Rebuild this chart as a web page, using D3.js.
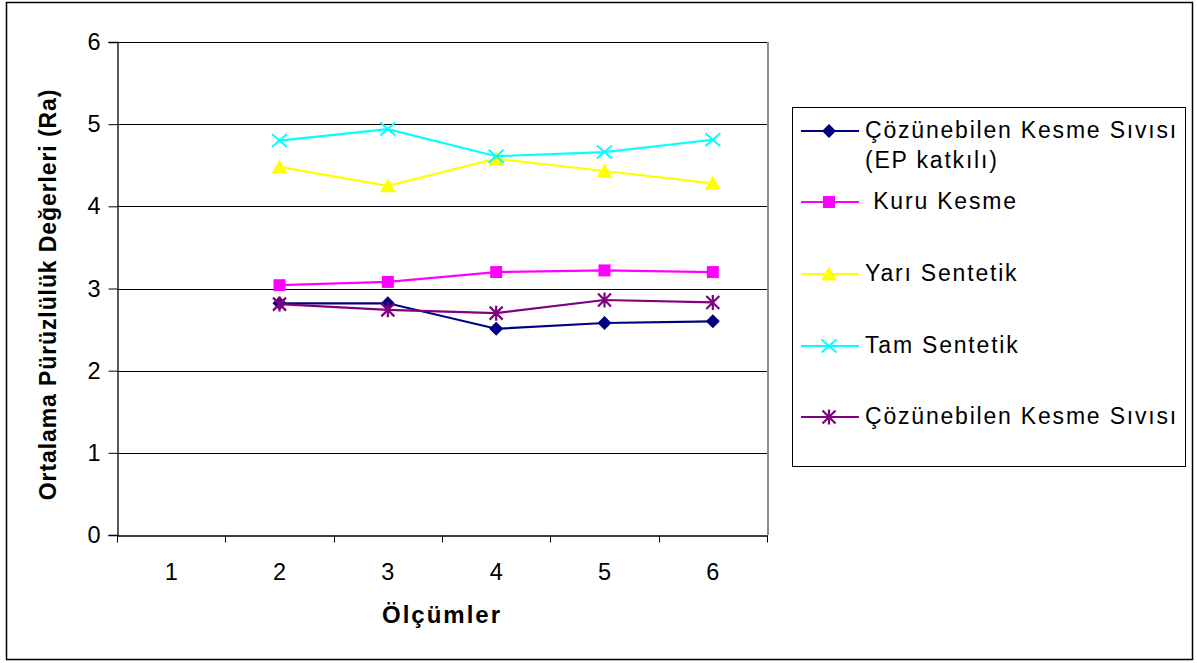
<!DOCTYPE html>
<html>
<head>
<meta charset="utf-8">
<script src="https://cdn.jsdelivr.net/npm/d3@7"></script>
<style>
  html, body { margin: 0; padding: 0; background: #fff; }
  svg { display: block; font-family: "Liberation Sans", Arial, sans-serif; }
</style>
</head>
<body>
<svg id="chart" width="1197" height="663"></svg>
<script>
// Measurement indices on the x axis
const categories = ["1", "2", "3", "4", "5", "6"];
const yTicks = [0, 1, 2, 3, 4, 5, 6];

// Average roughness (Ra) per measurement; measurement 1 has no value
const cozunebilenEP = [null, 2.82, 2.82, 2.51, 2.58, 2.60];
const kuruKesme     = [null, 3.04, 3.08, 3.20, 3.22, 3.20];
const yariSentetik  = [null, 4.48, 4.25, 4.58, 4.43, 4.28];
const tamSentetik   = [null, 4.80, 4.94, 4.61, 4.66, 4.81];
const cozunebilen   = [null, 2.81, 2.74, 2.70, 2.86, 2.83];

const seriesNames = [
  ["Çözünebilen Kesme Sıvısı", "(EP katkılı)"],
  [" Kuru Kesme"],
  ["Yarı Sentetik"],
  ["Tam Sentetik"],
  ["Çözünebilen Kesme Sıvısı"]
];

const series = [
  { name: seriesNames[0], values: cozunebilenEP, color: "#000080", marker: "diamond" },
  { name: seriesNames[1], values: kuruKesme,     color: "#ff00ff", marker: "square" },
  { name: seriesNames[2], values: yariSentetik,  color: "#ffff00", marker: "triangle" },
  { name: seriesNames[3], values: tamSentetik,   color: "#00ffff", marker: "x" },
  { name: seriesNames[4], values: cozunebilen,   color: "#800080", marker: "star" }
];

const svg = d3.select("#chart");

// Outer chart frame
svg.append("rect")
  .attr("x", 6.5).attr("y", 2.5).attr("width", 1186).attr("height", 657)
  .attr("fill", "#fff").attr("stroke", "#000").attr("stroke-width", 1.5);

const plot = { left: 117, right: 767, top: 42, bottom: 535 };

const x = d3.scaleBand().domain(categories).range([plot.left, plot.right]);
const y = d3.scaleLinear().domain([0, 6]).range([plot.bottom, plot.top]);

// Horizontal gridlines
svg.append("g").selectAll("line").data(yTicks.filter(d => d > 0)).join("line")
  .attr("x1", plot.left).attr("x2", plot.right)
  .attr("y1", d => Math.round(y(d)) + 0.5).attr("y2", d => Math.round(y(d)) + 0.5)
  .attr("stroke", "#000").attr("stroke-width", 1);

// Right edge of the plot area
svg.append("line")
  .attr("x1", plot.right + 1).attr("x2", plot.right + 1)
  .attr("y1", plot.top).attr("y2", plot.bottom)
  .attr("stroke", "#8c8c8c").attr("stroke-width", 2);

const tickFont = "Liberation Sans, Arial, sans-serif";

// Y axis
const yAxis = svg.append("g")
  .attr("transform", `translate(${plot.left + 0.5},0)`)
  .call(d3.axisLeft(y).tickValues(yTicks).tickSize(9).tickPadding(8).tickFormat(d3.format("d")));
yAxis.select(".domain").attr("stroke", "#000").attr("stroke-width", 1.3);
yAxis.selectAll(".tick line").attr("stroke", "#000");
yAxis.selectAll(".tick text").attr("font-size", 23.5).attr("fill", "#000")
  .attr("font-family", tickFont);

// X axis with ticks between categories
const xAxis = svg.append("g")
  .attr("transform", `translate(0,${plot.bottom + 0.5})`)
  .call(d3.axisBottom(x).tickSize(0).tickPadding(28));
xAxis.select(".domain").attr("stroke", "#000").attr("stroke-width", 1.3);
xAxis.selectAll(".tick text").attr("font-size", 23.5).attr("fill", "#000")
  .attr("font-family", tickFont);
const boundaries = categories.map(c => x(c)).concat([x(categories[categories.length - 1]) + x.bandwidth()]);
xAxis.selectAll("line.bound").data(boundaries).join("line")
  .attr("class", "bound")
  .attr("x1", d => Math.round(d) + 0.5).attr("x2", d => Math.round(d) + 0.5)
  .attr("y1", 0).attr("y2", 7)
  .attr("stroke", "#000");

// Axis titles
svg.append("text")
  .attr("x", (plot.left + plot.right) / 2).attr("y", 623)
  .attr("text-anchor", "middle").attr("font-size", 24).attr("font-weight", "bold")
  .attr("letter-spacing", 2)
  .text("Ölçümler");
svg.append("text")
  .attr("transform", `translate(56,${(plot.top + plot.bottom) / 2 + 6}) rotate(-90)`)
  .attr("text-anchor", "middle").attr("font-size", 23).attr("font-weight", "bold")
  .attr("letter-spacing", 0.9)
  .text("Ortalama Pürüzlülük Değerleri (Ra)");

// Marker drawing
function drawMarker(g, type, color) {
  if (type === "diamond") {
    g.append("path").attr("d", "M0,-7L7,0L0,7L-7,0Z").attr("fill", color);
  } else if (type === "square") {
    g.append("rect").attr("x", -6).attr("y", -6).attr("width", 12).attr("height", 12).attr("fill", color);
  } else if (type === "triangle") {
    g.append("path").attr("d", "M0,-7.5L8,6.5L-8,6.5Z").attr("fill", color);
  } else if (type === "x") {
    g.append("path").attr("d", "M-7.5,-6.5L7.5,6.5M-7.5,6.5L7.5,-6.5").attr("stroke", color).attr("stroke-width", 2).attr("fill", "none");
  } else if (type === "star") {
    g.append("path").attr("d", "M-6.5,-6.5L6.5,6.5M-6.5,6.5L6.5,-6.5M0,-7.5L0,7.5")
      .attr("stroke", color).attr("stroke-width", 2.2).attr("fill", "none");
  }
}

const line = d3.line()
  .defined(d => d.v != null)
  .x(d => x(d.c) + x.bandwidth() / 2)
  .y(d => y(d.v));

series.forEach(s => {
  const pts = categories.map((c, i) => ({ c, v: s.values[i] }));
  svg.append("path").datum(pts)
    .attr("d", line).attr("fill", "none")
    .attr("stroke", s.color).attr("stroke-width", 2.2);
  pts.filter(d => d.v != null).forEach(d => {
    const g = svg.append("g")
      .attr("transform", `translate(${x(d.c) + x.bandwidth() / 2},${y(d.v)})`);
    drawMarker(g, s.marker, s.color);
  });
});

// Legend
const legend = svg.append("g");
legend.append("rect")
  .attr("x", 792.5).attr("y", 107.5).attr("width", 393).attr("height", 359)
  .attr("fill", "#fff").attr("stroke", "#000").attr("stroke-width", 1);
const legendY = [131, 202, 274, 346, 417];
series.forEach((s, i) => {
  const ly = legendY[i];
  const g = legend.append("g");
  g.append("line").attr("x1", 801).attr("x2", 859).attr("y1", ly).attr("y2", ly)
    .attr("stroke", s.color).attr("stroke-width", 2);
  const m = g.append("g").attr("transform", `translate(829,${ly})`);
  drawMarker(m, s.marker, s.color);
  s.name.forEach((t, k) => {
    g.append("text")
      .attr("x", 865).attr("y", ly + 7 + k * 30)
      .attr("font-size", 23).attr("letter-spacing", 1.8).attr("fill", "#000")
      .attr("xml:space", "preserve")
      .style("white-space", "pre")
      .text(t);
  });
});
</script>
</body>
</html>
